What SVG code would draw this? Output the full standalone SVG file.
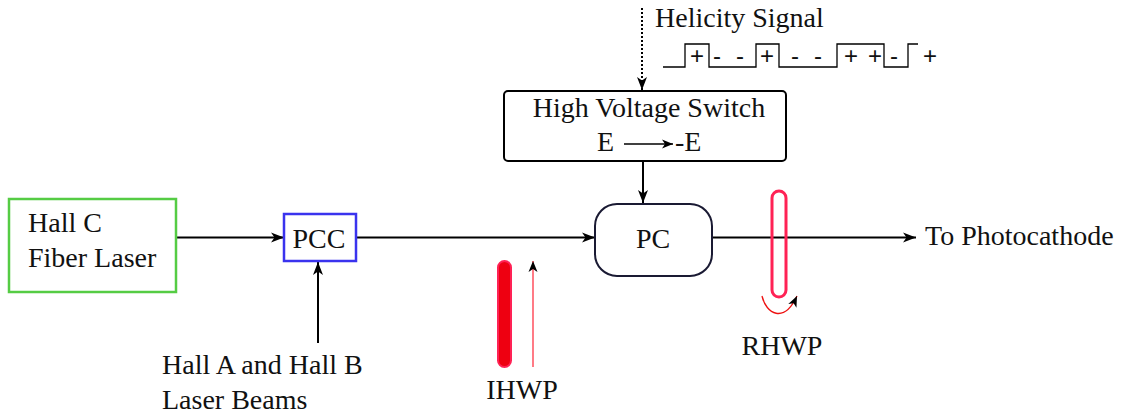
<svg xmlns="http://www.w3.org/2000/svg" width="1121" height="414" viewBox="0 0 1121 414">
<style>
text{font-family:'Liberation Serif','Times New Roman',serif;font-size:28px;fill:#111}
text.w{font-family:'Liberation Sans',Arial,sans-serif;font-size:24px}
.ln{stroke:#000;stroke-width:2;fill:none}
</style>
<defs>
<marker id="ah" markerUnits="userSpaceOnUse" markerWidth="14" markerHeight="12" refX="13" refY="6" orient="auto">
<path d="M0,1 L13,6 L0,11 L3.5,6 z" fill="#000"/>
</marker>
<marker id="ahs" markerUnits="userSpaceOnUse" markerWidth="12" markerHeight="10" refX="11" refY="5" orient="auto">
<path d="M0,0.5 L11,5 L0,9.5 L3,5 z" fill="#000"/>
</marker>
</defs>
<rect width="1121" height="414" fill="#fff"/>
<g id="connectors">
<line class="ln" x1="177" y1="237.5" x2="284" y2="237.5" marker-end="url(#ah)"/>
<line class="ln" x1="356" y1="237.5" x2="595" y2="237.5" marker-end="url(#ah)"/>
<line class="ln" x1="712" y1="237.5" x2="916" y2="237.5" marker-end="url(#ah)"/>
<line class="ln" x1="318" y1="343" x2="318" y2="262" marker-end="url(#ah)"/>
<line class="ln" x1="643" y1="161" x2="643" y2="203" marker-end="url(#ah)"/>
<line class="ln" x1="642" y1="8" x2="642" y2="90" stroke-dasharray="2,2" marker-end="url(#ah)"/>
</g>
<g id="hallc">
<rect x="9" y="199" width="167" height="93" fill="#fff" stroke="#55cc44" stroke-width="2.5"/>
<text x="28" y="232">Hall C</text>
<text x="28" y="267">Fiber Laser</text>
</g>
<g id="pcc">
<rect x="284" y="214" width="72" height="47" fill="#fff" stroke="#3a33ee" stroke-width="2.5"/>
<text x="319" y="248" text-anchor="middle">PCC</text>
</g>
<g id="halla">
<text x="162" y="374">Hall A and Hall B</text>
<text x="162" y="409">Laser Beams</text>
</g>
<g id="hvswitch">
<rect x="504" y="91" width="282" height="70" rx="4" fill="#fff" stroke="#000" stroke-width="2"/>
<text x="649" y="117" text-anchor="middle">High Voltage Switch</text>
<text x="597" y="151">E</text>
<line x1="624" y1="144" x2="673" y2="144" stroke="#000" stroke-width="1.5" marker-end="url(#ahs)"/>
<text x="675" y="151">-E</text>
</g>
<g id="helicity">
<text x="655" y="27">Helicity Signal</text>
<polyline fill="none" stroke="#000" stroke-width="1.3" points="663,67 685,67 685,44 709,44 709,67 756,67 756,44 779,44 779,67 837,67 837,44 884,44 884,67 908,67 908,44 918,44"/>
<text class="w" x="697" y="64" text-anchor="middle">+</text>
<text class="w" x="717" y="64" text-anchor="middle">-</text>
<text class="w" x="740" y="64" text-anchor="middle">-</text>
<text class="w" x="767" y="64" text-anchor="middle">+</text>
<text class="w" x="795" y="64" text-anchor="middle">-</text>
<text class="w" x="818" y="64" text-anchor="middle">-</text>
<text class="w" x="851" y="64" text-anchor="middle">+</text>
<text class="w" x="875" y="64" text-anchor="middle">+</text>
<text class="w" x="894" y="64" text-anchor="middle">-</text>
<text class="w" x="930" y="64" text-anchor="middle">+</text>
</g>
<g id="pc">
<rect x="595" y="204" width="117" height="72" rx="22" fill="#fff" stroke="#1a1a33" stroke-width="2"/>
<text x="653" y="248" text-anchor="middle">PC</text>
</g>
<g id="ihwp">
<rect x="498" y="261" width="13" height="106" rx="6.5" fill="#ee0011" stroke="#ff2255" stroke-width="2"/>
<line x1="533" y1="367" x2="533" y2="261" stroke="#ff3344" stroke-width="1.3" marker-end="url(#ahs)"/>
<text x="522" y="399" text-anchor="middle">IHWP</text>
</g>
<g id="rhwp">
<rect x="772" y="191" width="14" height="106" rx="7" fill="none" stroke="#ff2255" stroke-width="3"/>
<path d="M762,296 C766,314 784,324 797,296" fill="none" stroke="#ee1111" stroke-width="1.3" marker-end="url(#ahs)"/>
<text x="782" y="355" text-anchor="middle">RHWP</text>
</g>
<g id="out">
<text x="925" y="245">To Photocathode</text>
</g>
</svg>
